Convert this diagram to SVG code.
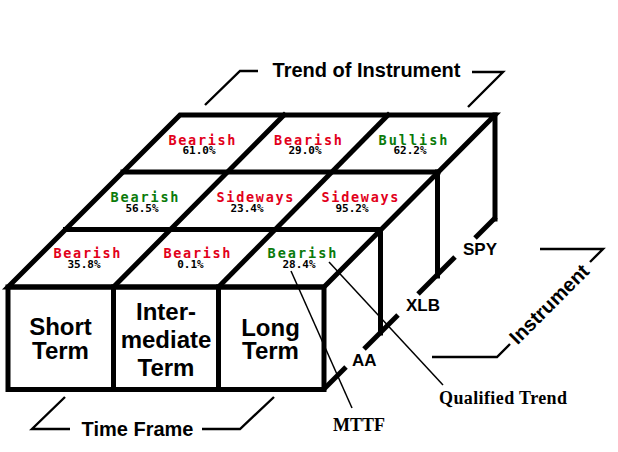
<svg xmlns="http://www.w3.org/2000/svg" width="618" height="452" viewBox="0 0 618 452">
<style>
.thick{fill:none;stroke:#000;stroke-width:5;stroke-linejoin:miter;stroke-linecap:square}
.tick{fill:none;stroke:#000;stroke-width:5;stroke-linecap:butt}
.brk{fill:none;stroke:#000;stroke-width:2.4;stroke-linejoin:miter}
.lead{fill:none;stroke:#000;stroke-width:1.5}
.w{font-family:"DejaVu Sans Mono","Liberation Mono",monospace;font-weight:bold;font-size:13.5px;text-anchor:middle}
.red{fill:#e2001a}
.grn{fill:#0a7a0a}
.pct{font-family:"DejaVu Sans Mono","Liberation Mono",monospace;font-weight:bold;font-size:11px;text-anchor:middle;fill:#000}
.big{font-family:"Liberation Sans",Arial,sans-serif;font-weight:bold;font-size:24px;text-anchor:middle;fill:#000}
.lbl{font-family:"Liberation Sans",Arial,sans-serif;font-weight:bold;font-size:20px;text-anchor:middle;fill:#000}
.ins{font-family:"Liberation Sans",Arial,sans-serif;font-weight:bold;font-size:17px;fill:#000}
.ser{font-family:"Liberation Serif","Times New Roman",serif;font-weight:bold;font-size:18px;fill:#000}
</style>
<rect width="618" height="452" fill="#fff"/>

<g id="top-face">
  <polygon class="thick" points="8,287 180,115 495,115 324,287" fill="#fff"/>
  <line class="thick" x1="123" y1="172" x2="438" y2="172"/>
  <line class="thick" x1="65.5" y1="229.5" x2="380.5" y2="229.5"/>
  <line class="thick" x1="113.5" y1="287" x2="284" y2="115"/>
  <line class="thick" x1="218.5" y1="287" x2="388" y2="115"/>
</g>

<g id="side">
  <line class="thick" x1="495" y1="115" x2="495" y2="219"/>
  <line class="thick" x1="437.5" y1="172" x2="437.5" y2="276"/>
  <line class="thick" x1="380.5" y1="229.5" x2="380.5" y2="333"/>
  <line class="tick" x1="475" y1="238" x2="496" y2="217"/>
  <line class="tick" x1="418" y1="294" x2="455" y2="257"/>
  <line class="tick" x1="364" y1="349" x2="398" y2="315"/>
  <line class="tick" x1="323" y1="390" x2="346" y2="367"/>
</g>

<g id="cell-st-spy"><text class="w red" x="202" y="145" textLength="67" lengthAdjust="spacing">Bearish</text><text class="pct" x="199" y="154">61.0%</text></g>
<g id="cell-it-spy"><text class="w red" x="308" y="145" textLength="68" lengthAdjust="spacing">Bearish</text><text class="pct" x="305" y="154">29.0%</text></g>
<g id="cell-lt-spy"><text class="w grn" x="413" y="145" textLength="69" lengthAdjust="spacing">Bullish</text><text class="pct" x="410" y="154">62.2%</text></g>

<g id="cell-st-xlb"><text class="w grn" x="144.5" y="202" textLength="68" lengthAdjust="spacing">Bearish</text><text class="pct" x="142" y="212">56.5%</text></g>
<g id="cell-it-xlb"><text class="w red" x="255" y="202" textLength="77" lengthAdjust="spacing">Sideways</text><text class="pct" x="247" y="212">23.4%</text></g>
<g id="cell-lt-xlb"><text class="w red" x="360" y="202" textLength="77" lengthAdjust="spacing">Sideways</text><text class="pct" x="352" y="212">95.2%</text></g>

<g id="cell-st-aa"><text class="w red" x="87" y="258" textLength="67" lengthAdjust="spacing">Bearish</text><text class="pct" x="84" y="268">35.8%</text></g>
<g id="cell-it-aa"><text class="w red" x="197" y="258" textLength="67" lengthAdjust="spacing">Bearish</text><text class="pct" x="190.5" y="268">0.1%</text></g>
<g id="cell-lt-aa"><text class="w grn" x="302" y="258" textLength="69" lengthAdjust="spacing">Bearish</text><text class="pct" x="299" y="268">28.4%</text></g>

<g id="front-short">
  <rect class="thick" x="8" y="287" width="105.5" height="102.5" fill="#fff"/>
  <text class="big" x="60.5" y="335">Short</text>
  <text class="big" x="60.5" y="359">Term</text>
</g>
<g id="front-intermediate">
  <rect class="thick" x="113.5" y="287" width="105" height="102.5" fill="#fff"/>
  <text class="big" x="166" y="320">Inter-</text>
  <text class="big" x="166" y="348">mediate</text>
  <text class="big" x="166" y="376">Term</text>
</g>
<g id="front-long">
  <rect class="thick" x="218.5" y="287" width="105.5" height="102.5" fill="#fff"/>
  <text class="big" x="270.5" y="336">Long</text>
  <text class="big" x="270.5" y="359">Term</text>
</g>

<g id="instrument-labels">
  <text class="ins" x="463" y="255">SPY</text>
  <text class="ins" x="406" y="311">XLB</text>
  <text class="ins" x="352" y="366">AA</text>
</g>

<g id="trend-of-instrument">
  <polyline class="brk" points="205,105 240,71 258,71"/>
  <polyline class="brk" points="472,72 503,72 468,107"/>
  <text class="lbl" x="366.5" y="77">Trend of Instrument</text>
</g>

<g id="time-frame">
  <polyline class="brk" points="65,397 32,429 70,429"/>
  <polyline class="brk" points="202,429 240,429 274,397"/>
  <text class="lbl" x="137.5" y="436">Time Frame</text>
</g>

<g id="instrument-axis">
  <polyline class="brk" points="540,249 603,249 590,262"/>
  <polyline class="brk" points="510,344 497,357 432,357"/>
  <text class="lbl" x="0" y="0" transform="translate(554,309) rotate(-45)">Instrument</text>
</g>

<g id="connectors">
  <line class="lead" x1="291" y1="271" x2="352" y2="408"/>
  <line class="lead" x1="329" y1="262" x2="443" y2="385"/>
</g>

<g id="mttf"><text class="ser" x="333" y="431">MTTF</text></g>
<g id="qualified-trend"><text class="ser" x="439" y="404" textLength="128" lengthAdjust="spacing">Qualified Trend</text></g>
</svg>
